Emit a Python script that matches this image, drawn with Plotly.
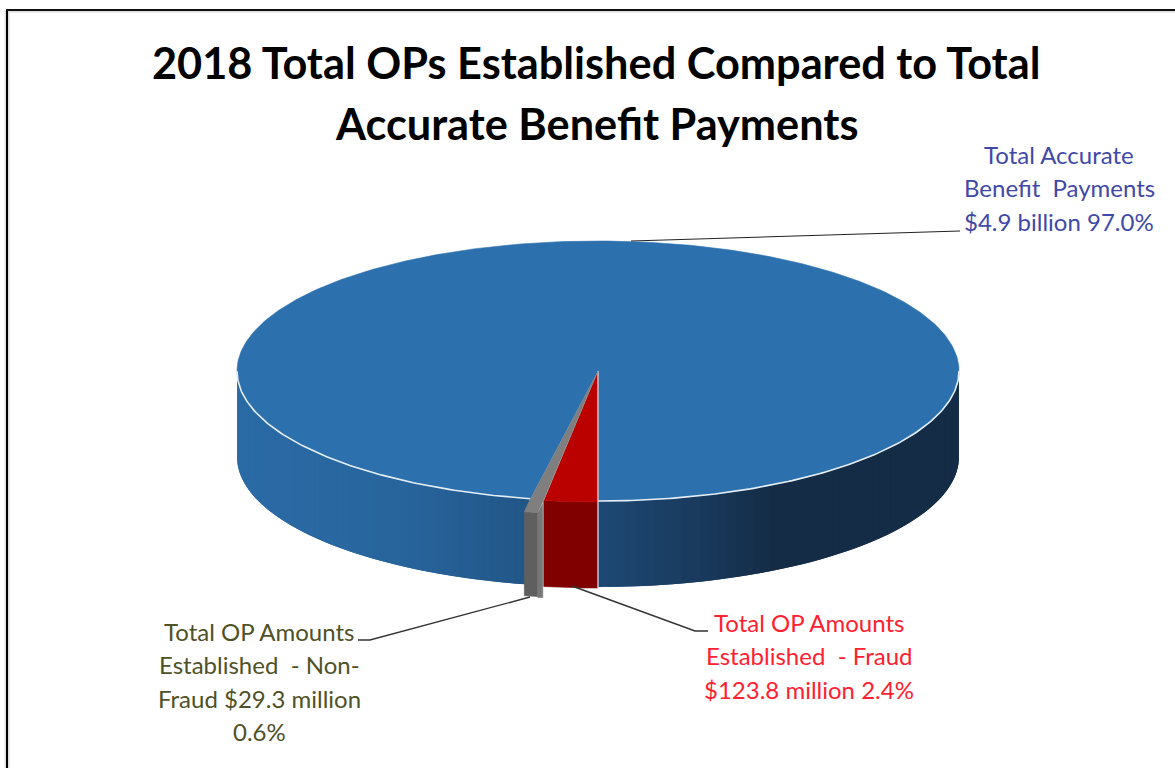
import numpy as np
import plotly.graph_objects as go

# ---- data ----
categories = ["Total OP Amounts Established - Fraud",
              "Total OP Amounts Established - Non-Fraud",
              "Total Accurate Benefit Payments"]
percent = [2.4, 0.6, 97.0]
amount_labels = ["$123.8 million", "$29.3 million", "$4.9 billion"]

title_lines = ["2018 Total OPs Established Compared to Total", "Accurate Benefit Payments"]
NB = "\u00a0"
label_fraud = ["Total OP Amounts", f"Established {NB}- Fraud", f"{amount_labels[0]} {percent[0]}%"]
label_non = ["Total OP Amounts", f"Established {NB}- Non-", f"Fraud {amount_labels[1]}", f"{percent[1]}%"]
label_acc = ["Total Accurate", f"Benefit {NB}Payments", f"{amount_labels[2]} {percent[2]}%"]

# ---- geometry / style ----
CX, CY, RX, RY, DEPTH = 598, 371, 361, 130, 86
EXPLODE_GREY = (-6, 12)
BLUE_TOP, RED_TOP, RED_FRONT = "#2C70AD", "#BB0000", "#800000"
GREY_TOP, GREY_FRONT, GREY_SIDE = "#7F7F7F", "#5F5F5F", "#777777"
RIM = "#E6EEF5"
grad_x = [237, 400, 525, 600, 700, 775, 959]
grad_r = [43, 40, 34, 29, 26, 20, 20]
grad_g = [107, 101, 87, 73, 58, 44, 44]
grad_b = [166, 157, 136, 116, 94, 70, 70]

fig = go.Figure()


def rim(phi_deg):
    p = np.radians(phi_deg)
    return CX - RX * np.sin(p), CY + RY * np.cos(p)


def poly(x, y, color, stroke=0.0):
    fig.add_trace(go.Scatter(
        x=list(x), y=list(y), mode="lines", fill="toself", fillcolor=color,
        line=dict(color=color, width=stroke),
        hoverinfo="skip", showlegend=False))


def line(x, y, color, width=1.3):
    fig.add_trace(go.Scatter(x=list(x), y=list(y), mode="lines",
                             line=dict(color=color, width=width),
                             hoverinfo="skip", showlegend=False))


a_red = percent[0] * 3.6
a_grey = a_red + percent[1] * 3.6


# gradient side wall of the big slice; each band runs on under the next to hide seams
def wall(phi_a, phi_b, n):
    edges = np.linspace(phi_a, phi_b, n + 1)
    for i in range(n):
        a, b = edges[i], edges[min(i + 2, n)]
        ph = np.linspace(a, b, 8)
        x, y = rim(ph)
        xm = rim(np.array([(edges[i] + edges[i + 1]) / 2]))[0][0]
        c = "rgb(%d,%d,%d)" % (np.interp(xm, grad_x, grad_r), np.interp(xm, grad_x, grad_g),
                               np.interp(xm, grad_x, grad_b))
        poly(np.r_[x, x[::-1]], np.r_[y, y[::-1] + DEPTH], c)


wall(a_grey, 90, 60)
wall(360, 270, 60)

# top of the big slice
ph = np.linspace(a_grey, 360, 500)
x, y = rim(ph)
poly(np.r_[CX, x], np.r_[CY, y], BLUE_TOP, 0.6)

# white rim on the front of the top
for rng in [(a_grey, 90), (270, 360)]:
    x, y = rim(np.linspace(rng[0], rng[1], 120))
    line(x, y, RIM, 1.6)

# red slice
ph = np.linspace(0, a_red, 12)
x, y = rim(ph)
poly(np.r_[x, x[::-1]], np.r_[y + 1, y[::-1] + 1 + DEPTH], RED_FRONT, 0.6)
poly(np.r_[CX, x], np.r_[CY, y + 1], RED_TOP, 0.6)
line([CX, CX], [CY, CY + RY + DEPTH + 1], RIM, 1.2)

# grey slice, pulled out a little
ph = np.linspace(a_red, a_grey, 6)
x, y = rim(ph)
gx, gy = x + EXPLODE_GREY[0], y + EXPLODE_GREY[1]
poly([x[0] - 1, x[0] - 1, gx[0], gx[0]],
     [y[0] + 4, y[0] + DEPTH + 12, gy[0] + DEPTH, gy[0] + 1], GREY_SIDE, 0.6)
poly(np.r_[gx, gx[::-1]], np.r_[gy + 1, gy[::-1] + DEPTH - 1], GREY_FRONT, 0.6)
poly(np.r_[CX, x[0], x[0] - 2.5, gx, x[-1]], np.r_[CY, y[0] + 1, y[0] + 6, gy + 1, y[-1]], GREY_TOP, 0.6)

# leader lines
line([631, 960], [241, 231], "#222222", 1.1)
line([358, 370, 530], [640, 640, 597], "#333333", 1.4)
line([572, 695, 708], [586, 631, 631], "#333333", 1.4)

# frame
line([7, 7], [10, 768], "#DDDDDD", 5)
line([7, 1175], [11, 11], "#DDDDDD", 3)
line([7, 7], [9, 768], "#000000", 2)
line([6, 1175], [10, 10], "#111111", 2)

ann = []


def add_lines(lines, cx, ys, color, size, bold=False):
    for t, y in zip(lines, ys):
        ann.append(dict(x=cx, y=y, xref="x", yref="y", text=f"<b>{t}</b>" if bold else t,
                        showarrow=False, xanchor="center", yanchor="middle",
                        font=dict(family="Lato", size=size, color=color)))


add_lines(title_lines, 596, [62, 123], "#000000", 43.3, True)
add_lines(label_acc, 1059, [154, 187, 221], "#3F49A9", 24)
add_lines(label_fraud, 809, [622, 655, 689], "#FF2030", 24)
add_lines(label_non, 259, [631, 664, 698, 731], "#4F5126", 24)

fig.update_layout(
    width=1175, height=768, autosize=False, margin=dict(l=0, r=0, t=0, b=0),
    paper_bgcolor="white", plot_bgcolor="white", showlegend=False, annotations=ann,
    xaxis=dict(range=[0, 1175], visible=False, fixedrange=True),
    yaxis=dict(range=[768, 0], visible=False, fixedrange=True),
)
fig.write_html("out.html", config=dict(displayModeBar=False),
               post_script="document.body.style.margin='0';document.body.style.overflow='hidden';")
